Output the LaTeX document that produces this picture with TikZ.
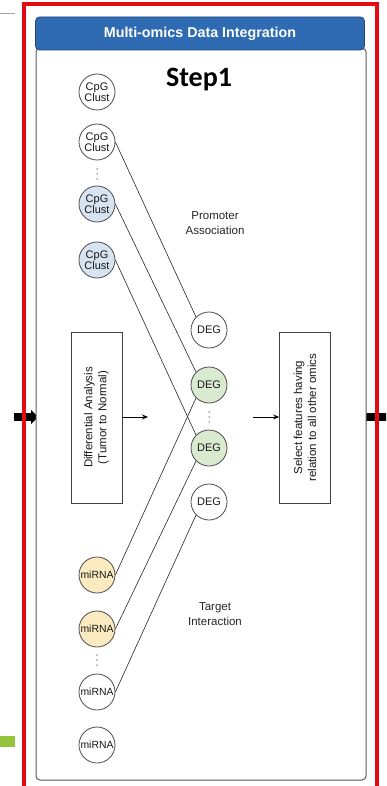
\documentclass[tikz,border=0pt]{standalone}
\usepackage{fontspec}
\setmainfont{Liberation Sans}
\newfontfamily\stepfont{Carlito}
\usetikzlibrary{arrows.meta}

\definecolor{frameRed}{RGB}{228,10,20}
\definecolor{headBlue}{RGB}{46,107,178}
\definecolor{headEdge}{RGB}{30,70,130}
\definecolor{panelEdge}{RGB}{90,90,90}
\definecolor{cpgBlue}{RGB}{214,228,241}
\definecolor{degGreen}{RGB}{218,234,208}
\definecolor{mirYellow}{RGB}{250,234,192}
\definecolor{limeMark}{RGB}{150,195,60}

\tikzset{
  omic/.style={circle, draw=black!70, line width=0.8pt, minimum size=36pt,
    inner sep=0pt, align=center, text=black!90},
  cpg/.style={omic, font=\fontsize{11}{11.5}\selectfont},
  deg/.style={omic, font=\fontsize{11}{11}\selectfont},
  mir/.style={omic, font=\fontsize{10.4}{10.4}\selectfont},
  link/.style={draw=black!85, line width=0.6pt},
  procbox/.style={draw=black!75, line width=0.7pt, minimum width=51pt,
    minimum height=171pt, inner sep=0pt},
  boxtext/.style={rotate=90, align=center, text=black!90,
    font=\fontsize{11.5}{14}\selectfont},
  flow/.style={-{Stealth[length=6pt,width=5pt]}, line width=0.7pt},
  sidearrow/.style={line width=8.5pt, -{Triangle[length=7pt,width=14pt]}, black},
  dotmark/.style={fill=black!60},
  caption/.style={align=center, font=\fontsize{11.5}{15}\selectfont, text=black!85}
}

\begin{document}
\begin{tikzpicture}[x=1pt,y=-1pt]
  \useasboundingbox (0,0) rectangle (386,786);
  \clip (0,0) rectangle (386,786);

  % page decorations outside the frame
  \draw[gray!70, line width=0.8pt] (0,13) -- (15,13);
  \fill[limeMark] (0,736) rectangle (15,747);

  % flow arrows entering and leaving the step
  \coordinate (inL) at (14,417);
  \coordinate (inR) at (38,417);
  \coordinate (outL) at (366,417);
  \coordinate (outR) at (396,417);
  \draw[sidearrow] (inL) -- (inR);
  \draw[sidearrow] (outL) -- (outR);

  % inner panel and header
  \draw[panelEdge, line width=1pt, rounded corners=4pt, fill=white]
    (36,48) rectangle (366,780);
  \node[draw=headEdge, fill=headBlue, rounded corners=4pt, line width=0.8pt,
        minimum width=329pt, minimum height=33pt, inner sep=0pt,
        text=white, font=\bfseries\fontsize{14.3}{14.3}\selectfont]
    (header) at (200,33.5) {Multi-omics Data Integration};

  \node[font=\stepfont\bfseries\fontsize{28}{28}\selectfont] (step) at (199,80) {Step1};

  % CpG cluster features
  \node[cpg] (c1) at (97,92)  {CpG\\Clust};
  \node[cpg] (c2) at (97,142) {CpG\\Clust};
  \node[cpg, fill=cpgBlue] (c3) at (97,204) {CpG\\Clust};
  \node[cpg, fill=cpgBlue] (c4) at (97,260) {CpG\\Clust};

  % differentially expressed genes
  \node[deg] (d1) at (209,330) {DEG};
  \node[deg, fill=degGreen] (d2) at (209,385) {DEG};
  \node[deg, fill=degGreen] (d3) at (209,448) {DEG};
  \node[deg] (d4) at (209,502) {DEG};

  % miRNA features
  \node[mir, fill=mirYellow] (m1) at (97,575) {miRNA};
  \node[mir, fill=mirYellow] (m2) at (97,629) {miRNA};
  \node[mir] (m3) at (97,692) {miRNA};
  \node[mir] (m4) at (97,745) {miRNA};

  % ellipses marking omitted features
  \foreach \px/\py in {97/174, 209/417, 97/660}
    \foreach \k in {-5,0,5}
      \fill[dotmark] (\px,\py+\k) circle (0.75pt);

  % relation labels
  \node[caption] (prom) at (215,223) {Promoter\\Association};
  \node[caption] (targ) at (215,614) {Target\\Interaction};

  % promoter links
  \draw[link] (c2.east) -- (d1.north west);
  \draw[link] (c3.east) -- (d2.north west);
  \draw[link] (c4.east) -- (d3.north west);
  % target links
  \draw[link] (m1.east) -- (d2.south west);
  \draw[link] (m2.east) -- (d3.south west);
  \draw[link] (m3.east) -- (d4.south west);

  % processing boxes
  \node[procbox] (diff) at (96.5,417.5) {};
  \node[boxtext] (difftext) at (diff.center) {Differential Analysis\\(Tumor to Normal)};
  \node[procbox] (sel) at (305,417.5) {};
  \node[boxtext] (seltext) at (sel.center) {Select features having\\relation to all other omics};

  \coordinate (diffOut) at (148,417);
  \coordinate (selIn) at (253,417);
  \draw[flow] (diff.east |- diffOut) -- (diffOut);
  \draw[flow] (selIn) -- (sel.west |- selIn);

  % outer highlight frame
  \draw[frameRed, line width=3.2pt] (24,4) rectangle (377,800);
\end{tikzpicture}
\end{document}
